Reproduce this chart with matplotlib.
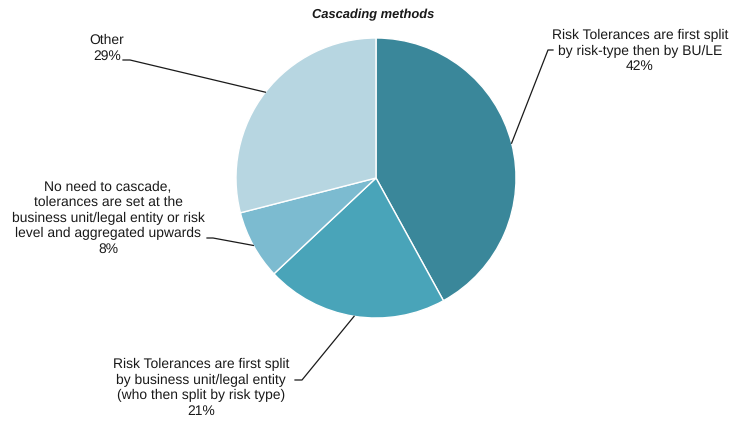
import numpy as np
import matplotlib
matplotlib.use("Agg")
import matplotlib.pyplot as plt
from matplotlib.lines import Line2D

plt.rcParams['font.family'] = ['Liberation Sans', 'DejaVu Sans']
plt.rcParams['text.hinting'] = 'no_hinting'

labels = [
    "Risk Tolerances are first split\nby risk-type then by BU/LE",
    "Risk Tolerances are first split\nby business unit/legal entity\n(who then split by risk type)",
    "No need to cascade,\ntolerances are set at the\nbusiness unit/legal entity or risk\nlevel and aggregated upwards",
    "Other",
]
shares = [42, 21, 8, 29]
colors = ["#3a879a", "#49a4b9", "#7cbbd0", "#b7d6e1"]

W, H = 735, 424
fig = plt.figure(figsize=(W / 100, H / 100), dpi=100)

# pie centred at (376, 178) px from top-left, radius 140 px
cx, cy, r = 376, 178, 140
ax = fig.add_axes([(cx - r) / W, (H - cy - r) / H, 2 * r / W, 2 * r / H])
wedges, _ = ax.pie(shares, colors=colors, startangle=90, counterclock=False,
                   radius=1.0, wedgeprops=dict(edgecolor="white", linewidth=1.0))
ax.set_xlim(-1, 1)
ax.set_ylim(-1, 1)
ax.set_aspect("equal")
ax.axis("off")

fig.text(373 / W, 1 - 15 / H, "Cascading methods", ha="center", va="center",
         fontsize=9.3, fontweight="bold", fontstyle="italic", color="#1a1a1a")

# label text centre and leader tick (x0, x1, y) in px from top-left
label_pos = [(640, 51), (201, 388), (108, 218), (107, 48)]
ticks = [(553, 548, 50), (295, 302, 380), (207, 213, 238), (123, 130, 60)]

for w, lab, pct, (tx, ty), (x0, x1, yt) in zip(wedges, labels, shares, label_pos, ticks):
    fig.text(tx / W, 1 - ty / H, f"{lab}\n{pct}%", ha="center", va="center",
             fontsize=10, linespacing=1.25, color="#1a1a1a")
    ang = np.deg2rad((w.theta1 + w.theta2) / 2)
    ex, ey = ax.transData.transform((np.cos(ang), np.sin(ang)))
    xs = [x0 / W, x1 / W, ex / (fig.dpi * fig.get_figwidth())]
    ys = [1 - yt / H, 1 - yt / H, ey / (fig.dpi * fig.get_figheight())]
    fig.add_artist(Line2D(xs, ys, transform=fig.transFigure, color="#1a1a1a", linewidth=0.9))

fig.savefig("out.png", dpi=100)
